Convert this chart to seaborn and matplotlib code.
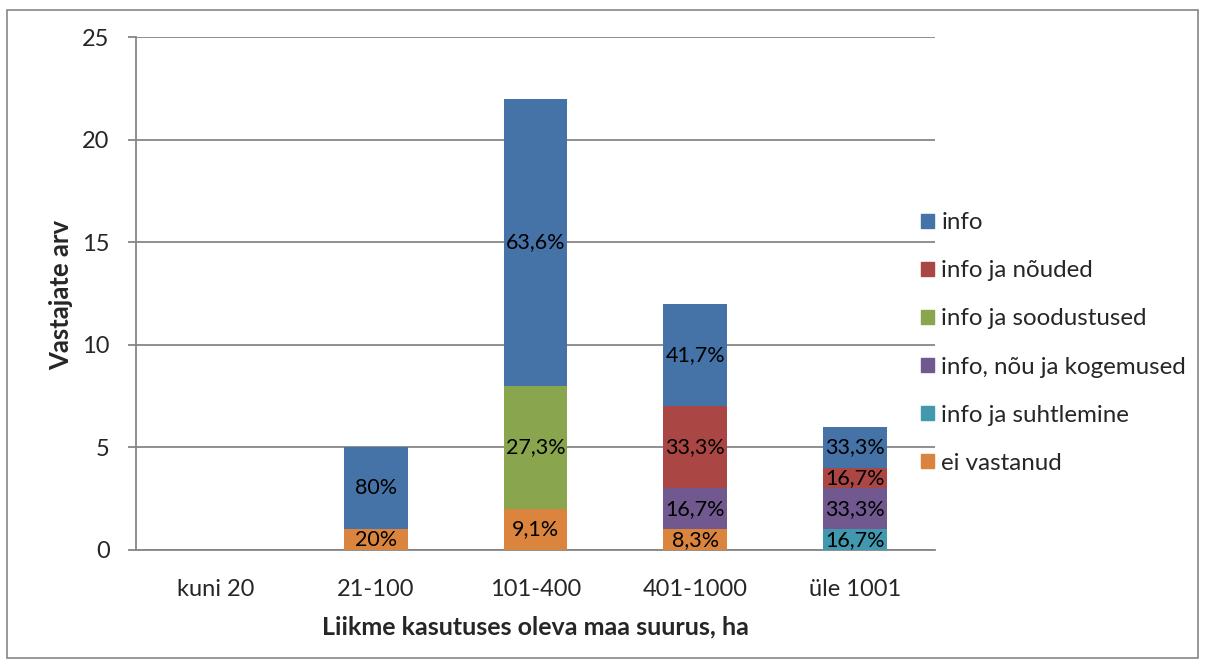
import numpy as np
import pandas as pd
import matplotlib.pyplot as plt
import matplotlib.patches as mpatches
import seaborn as sns

# data
categories = ["kuni 20", "21-100", "101-400", "401-1000", "üle 1001"]
ei_vastanud = [0, 1, 2, 1, 0]
info_suhtlemine = [0, 0, 0, 0, 1]
info_nou_kogemused = [0, 0, 0, 2, 2]
info_soodustused = [0, 0, 6, 0, 0]
info_nouded = [0, 0, 0, 4, 1]
info = [0, 4, 14, 5, 2]

series_names = ["ei vastanud", "info ja suhtlemine", "info, nõu ja kogemused",
                "info ja soodustused", "info ja nõuded", "info"]
series_vals = [ei_vastanud, info_suhtlemine, info_nou_kogemused,
               info_soodustused, info_nouded, info]
colors = ["#DB843D", "#4198AF", "#71588F", "#89A54E", "#AA4643", "#4572A7"]

sns.set_style("white")
plt.rcParams['font.family'] = ['Lato', 'DejaVu Sans']

fig = plt.figure(figsize=(12.06, 6.66), dpi=100)
ax = fig.add_axes([136 / 1206, 1 - 550 / 666, (935 - 136) / 1206, (550 - 37) / 666])

totals = np.sum(np.array(series_vals), axis=0)
bottom = np.zeros(len(categories))
for name, vals, col in zip(series_names, series_vals, colors):
    df = pd.DataFrame({"cat": categories, "val": vals})
    sns.barplot(data=df, x="cat", y="val", color=col, width=0.4, ax=ax,
                bottom=bottom.copy(), saturation=1, linewidth=0, zorder=3)
    for i, v in enumerate(vals):
        if v > 0:
            p = v / totals[i] * 100
            txt = f"{p:.1f}".rstrip("0").rstrip(".").replace(".", ",") + "%"
            ax.text(i, bottom[i] + v / 2, txt, ha="center", va="center",
                    fontsize=15.5, color="black", zorder=5)
    bottom += np.array(vals)

ax.set_ylim(0, 25)
ax.set_xlim(-0.5, len(categories) - 0.5)
ax.set_yticks(range(0, 26, 5))
ax.yaxis.grid(True, color="#868686", linewidth=1.3, zorder=0)
ax.set_axisbelow(True)
for s in ["top", "right"]:
    ax.spines[s].set_visible(False)
for s in ["left", "bottom"]:
    ax.spines[s].set_color("#868686")
    ax.spines[s].set_linewidth(1.3)
ax.set_xticks(np.arange(-0.5, len(categories), 1), minor=True)
ax.tick_params(axis="x", which="major", length=0, pad=21, labelsize=17)
ax.tick_params(axis="x", which="minor", length=6, color="#868686", width=1.3)
ax.tick_params(axis="y", length=6, color="#868686", width=1.3, labelsize=17,
               left=True, pad=13)
ax.set_xlabel("Liikme kasutuses oleva maa suurus, ha", fontsize=18,
              fontweight="bold")
ax.set_ylabel("Vastajate arv", fontsize=18.5, fontweight="bold")
ax.xaxis.set_label_coords(0.5, (550 - 627) / 513)
ax.yaxis.set_label_coords((61 - 136) / 799, (550 - 295) / 513)
ax.xaxis.label.set_va("center")
ax.yaxis.label.set_va("center")

handles = [mpatches.Patch(color=c, label=n) for n, c in zip(series_names, colors)][::-1]
fig.legend(handles=handles, loc="center left", bbox_to_anchor=(899 / 1206, 1 - 343 / 666),
           frameon=False, fontsize=17.4, handlelength=0.55, handleheight=0.55,
           handletextpad=0.3, labelspacing=1.12)

fig.patches.append(mpatches.Rectangle((7 / 1206, 1 - 658 / 666), 1191 / 1206, 648 / 666,
                                      transform=fig.transFigure, fill=False,
                                      edgecolor="#868686", linewidth=1.2))

fig.savefig("out.png", dpi=100)
